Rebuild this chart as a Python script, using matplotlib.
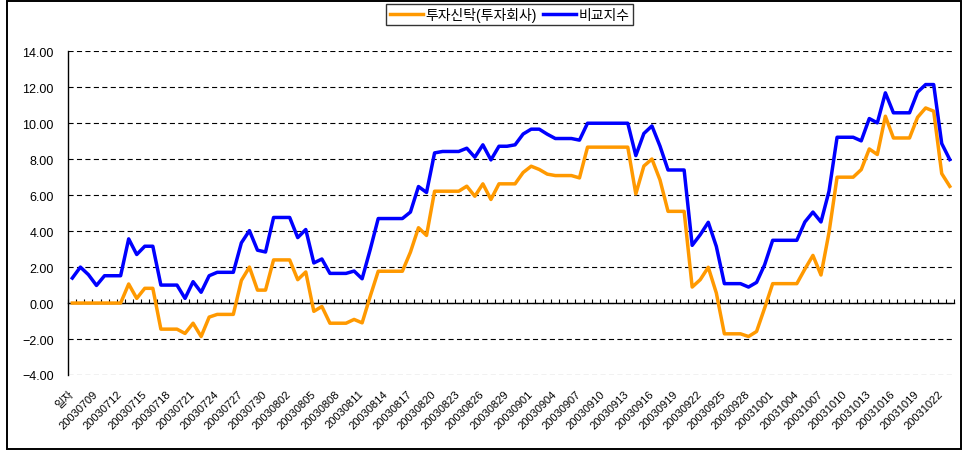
import numpy as np
import matplotlib
matplotlib.use("Agg")
import matplotlib.pyplot as plt
from matplotlib.patches import Rectangle
from matplotlib.ticker import FuncFormatter

plt.rcParams['font.family'] = ['Liberation Sans', 'Noto Sans CJK KR', 'DejaVu Sans']

series_names = ["투자신탁(투자회사)", "비교지수"]

fund = [0, 0, 0, 0, 0, 0, 0, 1.06, 0.26, 0.82, 0.82, -1.45, -1.45, -1.45, -1.69, -1.12,
        -1.86, -0.78, -0.63, -0.63, -0.63, 1.26, 2.00, 0.72, 0.72, 2.40, 2.40, 2.40, 1.30,
        1.73, -0.46, -0.19, -1.12, -1.12, -1.12, -0.91, -1.10, 0.37, 1.77, 1.77, 1.77, 1.77,
        2.83, 4.19, 3.76, 6.22, 6.22, 6.22, 6.22, 6.50, 5.94, 6.63, 5.76, 6.63, 6.63, 6.63,
        7.26, 7.61, 7.43, 7.17, 7.09, 7.09, 7.09, 6.96, 8.67, 8.67, 8.67, 8.67, 8.67, 8.67,
        6.07, 7.62, 8.01, 6.85, 5.10, 5.10, 5.10, 0.89, 1.30, 1.99, 0.56, -1.71, -1.71, -1.71,
        -1.86, -1.58, -0.28, 1.08, 1.08, 1.08, 1.08, 1.89, 2.65, 1.56, 3.93, 7.00, 7.00, 7.00,
        7.42, 8.57, 8.26, 10.39, 9.18, 9.18, 9.18, 10.33, 10.85, 10.67, 7.20, 6.49]

index = [1.39, 2.00, 1.58, 0.98, 1.52, 1.52, 1.52, 3.57, 2.70, 3.16, 3.16, 1.00, 1.00, 1.00,
         0.26, 1.19, 0.60, 1.52, 1.71, 1.71, 1.71, 3.35, 4.03, 2.94, 2.84, 4.76, 4.76, 4.76,
         3.64, 4.09, 2.23, 2.45, 1.65, 1.65, 1.65, 1.78, 1.35, 2.97, 4.70, 4.70, 4.70, 4.70,
         5.06, 6.48, 6.15, 8.35, 8.43, 8.43, 8.43, 8.61, 8.11, 8.80, 7.96, 8.72, 8.72, 8.80,
         9.40, 9.67, 9.67, 9.39, 9.15, 9.15, 9.15, 9.06, 10.00, 10.00, 10.00, 10.00, 10.00,
         10.00, 8.20, 9.43, 9.85, 8.73, 7.40, 7.40, 7.40, 3.21, 3.80, 4.49, 3.15, 1.08, 1.08,
         1.08, 0.89, 1.15, 2.13, 3.49, 3.49, 3.49, 3.49, 4.51, 5.06, 4.51, 6.22, 9.22, 9.22,
         9.22, 9.02, 10.26, 10.02, 11.69, 10.58, 10.58, 10.58, 11.73, 12.15, 12.15, 8.87, 7.98]

tick_labels = ["일자", "20030709", "20030712", "20030715", "20030718", "20030721", "20030724",
               "20030727", "20030730", "20030802", "20030805", "20030808", "20030811",
               "20030814", "20030817", "20030820", "20030823", "20030826", "20030829",
               "20030901", "20030904", "20030907", "20030910", "20030913", "20030916",
               "20030919", "20030922", "20030925", "20030928", "20031001", "20031004",
               "20031007", "20031010", "20031013", "20031016", "20031019", "20031022"]

y_ticks = [-4, -2, 0, 2, 4, 6, 8, 10, 12, 14]

N = len(index)
x = np.arange(N)

W, H = 966, 452
fig = plt.figure(figsize=(W / 100, H / 100), dpi=100)
ax = fig.add_axes([68.3 / W, 1 - 376 / H, 885.5 / W, (376 - 52.3) / H])

ax.plot(x, fund, color='#FF9900', lw=2.5, label=series_names[0], zorder=3)
ax.plot(x, index, color='#0000FF', lw=2.5, label=series_names[1], zorder=4)

ax.set_xlim(-0.5, N - 0.5)
ax.set_ylim(y_ticks[0], y_ticks[-1])
ax.set_yticks(y_ticks)
ax.yaxis.set_major_formatter(FuncFormatter(lambda v, _: f"{v:.2f}".replace('-', '\u2212')))
ax.yaxis.grid(True, color='black', lw=0.8, linestyle=(0, (4.6, 3.0)))
ax.tick_params(axis='y', length=0, pad=10.5, labelsize=9, colors='black')

for s in ['top', 'right']:
    ax.spines[s].set_visible(False)
ax.spines['left'].set_linewidth(1.0)
ax.spines['bottom'].set_position(('data', 0))
ax.spines['bottom'].set_linewidth(1.0)
ax.set_xticks(np.arange(-0.5, N, 1))
ax.tick_params(axis='x', direction='in', length=3, width=0.8, labelbottom=False)

sec = ax.secondary_xaxis('bottom')
sec.set_ticks(np.arange(0, N, 3)[:len(tick_labels)], tick_labels, rotation=45,
              ha='right', va='center', rotation_mode='anchor', fontsize=8)
sec.tick_params(length=0, pad=12)
sec.spines['bottom'].set_visible(False)

leg = fig.legend(loc='center', bbox_to_anchor=(509.7 / W, 1 - 15.5 / H), ncol=2,
                 frameon=True, fancybox=False, edgecolor='black', fontsize=10,
                 handlelength=2.4, handletextpad=0.2, columnspacing=0.4,
                 borderpad=0.25, borderaxespad=0)
leg.get_frame().set_linewidth(1.0)

fig.patches.append(Rectangle((7 / W, 1 - 449.5 / H), (961 - 7) / W, (449.5 - 2) / H,
                             transform=fig.transFigure, fill=False, lw=1.4,
                             edgecolor='black'))

fig.savefig('out.png', dpi=100)
